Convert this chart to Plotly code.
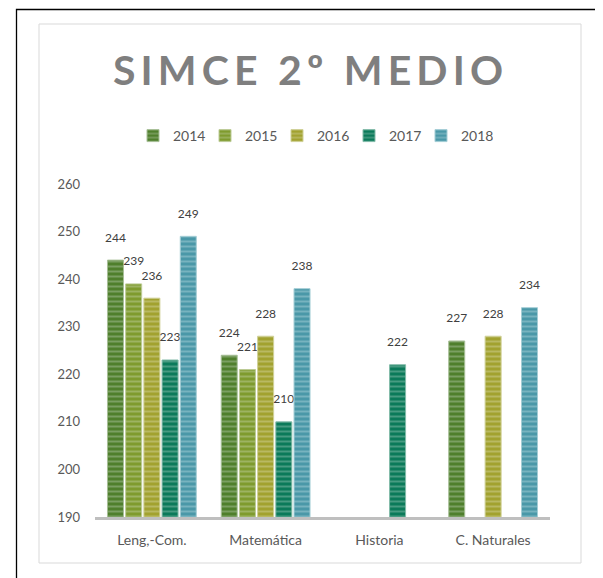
import plotly.graph_objects as go

categories = ["Leng,-Com.", "Matemática", "Historia", "C. Naturales"]
years = ["2014", "2015", "2016", "2017", "2018"]
v2014 = [244, 224, None, 227]
v2015 = [239, 221, None, None]
v2016 = [236, 228, None, 228]
v2017 = [223, 210, 222, None]
v2018 = [249, 238, None, 234]
series = [v2014, v2015, v2016, v2017, v2018]
colors = ["#4f7f2c", "#7f9b2e", "#a2a22f", "#0b7a5a", "#4a98a8"]
stripe = ["#a7bf97", "#bccb96", "#cfd096", "#83bba9", "#a3cdd5"]
y_ticks = [190, 200, 210, 220, 230, 240, 250, 260]

OFF = 8  # page body margin
W, H = 603 - OFF, 578 - OFF
L, R, T, B = 95 - OFF, 550 - OFF, 184 - OFF, 517 - OFF

fig = go.Figure()
for yr, vals, c, s in zip(years, series, colors, stripe):
    fig.add_trace(go.Bar(
        name=yr, x=categories, y=vals,
        marker=dict(color=c, line=dict(color=s, width=1),
                    pattern=dict(shape="-", fgcolor=s, bgcolor=c, size=5, solidity=0.4, fillmode="overlay")),
        text=[(str(v) + "<br><span style='font-size:2px'> </span>") if v is not None else "" for v in vals],
        textposition="outside", cliponaxis=False, constraintext="none",
        textfont=dict(family="Lato", size=12, color="#404040"),
    ))

def px(x):
    return (x - OFF - L) / (R - L)

def py(y):
    return (B - (y - OFF)) / (B - T)

shapes = [
    dict(type="rect", xref="paper", yref="paper", x0=px(16.5), x1=px(600.5), y0=py(590), y1=py(9.5),
         line=dict(color="black", width=1.3), fillcolor="rgba(0,0,0,0)", layer="below"),
    dict(type="rect", xref="paper", yref="paper", x0=px(39), x1=px(581), y0=py(563), y1=py(24),
         line=dict(color="#d9d9d9", width=1), fillcolor="rgba(0,0,0,0)", layer="below"),
]

title_text = "S I M C E  2 º  M E D I O".replace(" ", "\u2009").replace("\u2009\u2009", "\u2009\u2009\u2009\u2009")

fig.update_layout(
    width=W, height=H,
    margin=dict(l=L, r=W - R, t=T, b=H - B, pad=0),
    paper_bgcolor="white", plot_bgcolor="white",
    barmode="group", bargap=0.2, bargroupgap=0.12,
    title=dict(text="<b>" + title_text + "</b>", x=(308 - OFF) / W, xanchor="center",
               y=1 - (71 - OFF) / H, yanchor="middle",
               font=dict(family="Lato", size=41, color="#7f7f7f")),
    legend=dict(orientation="h", x=(313 - OFF) / W, xanchor="center", y=1 - (136 - OFF) / H, yanchor="middle",
                xref="container", yref="container",
                font=dict(family="Lato", size=14, color="#595959"),
                entrywidth=27, entrywidthmode="pixels", itemwidth=30,
                traceorder="normal"),
    xaxis=dict(showline=True, linecolor="#bfbfbf", linewidth=3, ticks="", showgrid=False,
               tickfont=dict(family="Lato", size=14, color="#595959"), ticklabelstandoff=8),
    yaxis=dict(range=[190, 260], tickvals=y_ticks, showgrid=False, zeroline=False, showline=False,
               tickfont=dict(family="Lato", size=13, color="#595959"), ticklabelstandoff=14),
    shapes=shapes,
    font=dict(family="Lato"),
)

fig.write_html("out.html")
